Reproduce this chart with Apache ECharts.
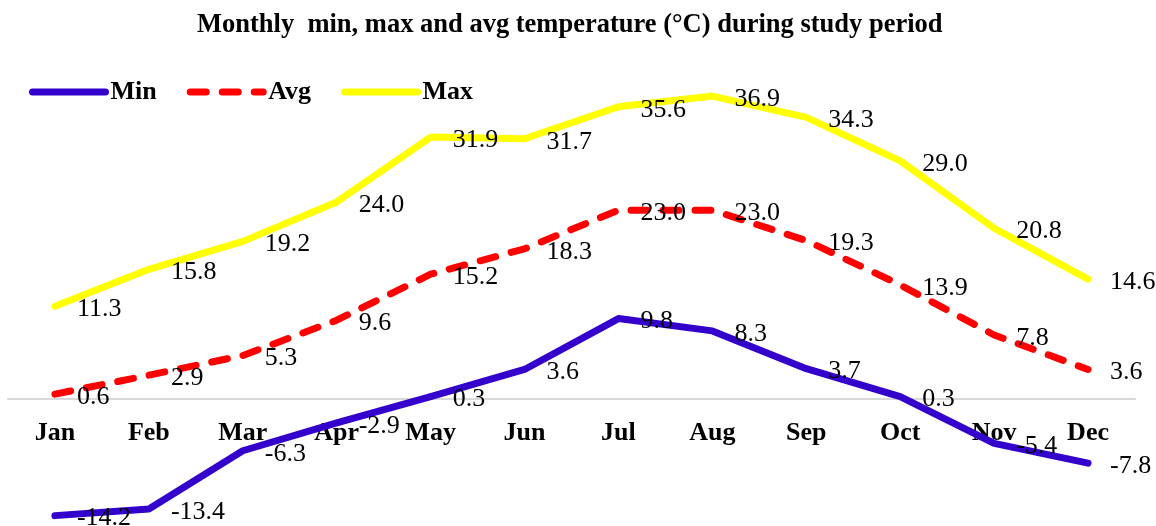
<!DOCTYPE html>
<html>
<head>
<meta charset="utf-8">
<script src="https://cdn.jsdelivr.net/npm/echarts@6/dist/echarts.min.js"></script>
<style>html,body{margin:0;padding:0;background:#fff}#c{width:1156px;height:526px}</style>
</head>
<body>
<div id="c"></div>
<script>
const months = ['Jan','Feb','Mar','Apr','May','Jun','Jul','Aug','Sep','Oct','Nov','Dec'];
const minVals = [-14.2,-13.4,-6.3,-2.9,0.3,3.6,9.8,8.3,3.7,0.3,-5.4,-7.8];
const avgVals = [0.6,2.9,5.3,9.6,15.2,18.3,23.0,23.0,19.3,13.9,7.8,3.6];
const maxVals = [11.3,15.8,19.2,24.0,31.9,31.7,35.6,36.9,34.3,29.0,20.8,14.6];

const FONT = '"Liberation Serif","Times New Roman",serif';
const Y_MIN = -15, Y_MAX = 40, GRID_TOP = 70.6, GRID_BOTTOM = 3.8, H = 526;
const plotH = H - GRID_TOP - GRID_BOTTOM;
const zeroOffset = -plotH * (0 - Y_MIN) / (Y_MAX - Y_MIN);

const chart = echarts.init(document.getElementById('c'));
const lbl = {
  show: true, position: 'right', distance: 22, offset: [0, 3],
  fontFamily: FONT, fontSize: 26, color: '#000',
  formatter: p => Number(p.value).toFixed(1)
};
const styles = {
  Min: { color: '#3300cc', type: 'solid' },
  Avg: { color: '#ff0000', type: [16, 16] },
  Max: { color: '#ffff00', type: 'solid' }
};
function ls(name) {
  return { color: styles[name].color, width: 7, type: styles[name].type, cap: 'round', join: 'round' };
}
function ser(name, data) {
  return {
    name, type: 'line', data, symbol: 'circle', symbolSize: 0, showSymbol: true, smooth: false,
    lineStyle: ls(name),
    itemStyle: { color: styles[name].color },
    label: lbl
  };
}
chart.setOption({
  animation: false,
  title: {
    text: 'Monthly  min, max and avg temperature (°C) during study period',
    left: 192, top: 7,
    textStyle: { fontFamily: FONT, fontSize: 26.5, fontWeight: 'bold', color: '#000' }
  },
  legend: {
    left: 24, top: 74, itemWidth: 73, itemHeight: 7, itemGap: 30,
    textStyle: { fontFamily: FONT, fontSize: 26, fontWeight: 'bold', color: '#000' },
    data: ['Min','Avg','Max'].map(n => ({ name: n, lineStyle: ls(n), itemStyle: { opacity: 0 } }))
  },
  grid: { left: 8, right: 21, top: GRID_TOP, bottom: GRID_BOTTOM, outerBoundsMode: 'none', containLabel: false },
  xAxis: {
    type: 'category', data: months, boundaryGap: true, position: 'bottom', offset: zeroOffset,
    axisLine: { onZero: false, lineStyle: { color: '#d9d9d9', width: 2 } },
    axisTick: { show: false },
    axisLabel: { fontFamily: FONT, fontSize: 26, fontWeight: 'bold', color: '#000', margin: 21 }
  },
  yAxis: {
    type: 'value', min: Y_MIN, max: Y_MAX, show: false, splitLine: { show: false }
  },
  series: [ser('Min', minVals), ser('Avg', avgVals), ser('Max', maxVals)]
});
</script>
</body>
</html>
